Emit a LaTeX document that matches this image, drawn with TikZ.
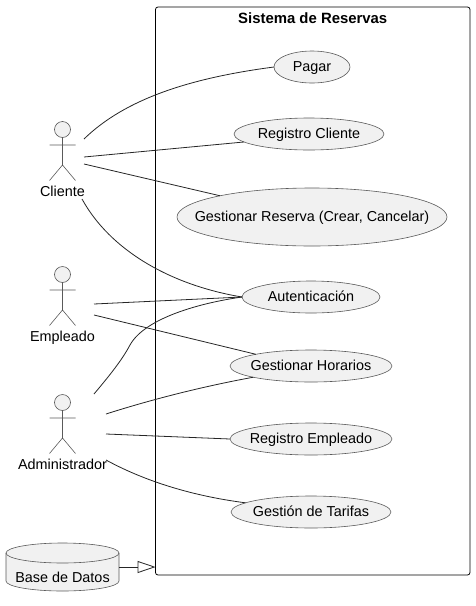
\documentclass[tikz,border=0pt]{standalone}
\usepackage{fontspec}
\setmainfont{Liberation Sans}
\usetikzlibrary{arrows.meta, positioning, shapes}
\definecolor{umlfill}{HTML}{F1F1F1}
\definecolor{umlline}{HTML}{5A5A5A}
\tikzset{
  stickman/.pic = {
    \draw[draw=umlline, line width=0.6pt, fill=umlfill] (0,-8.5) circle (8);
    \draw[draw=umlline, line width=0.6pt] (0,-16.5) -- (0,-44) (-13,-24) -- (13,-24) (-13,-59.5) -- (0,-44) -- (13,-59.5);
  },
  drum/.pic = {
    \draw[draw=umlline, line width=0.6pt, fill=umlfill] (-56.5,14) arc[start angle=180, end angle=0, x radius=56.5, y radius=10] -- (56.5,-14) arc[start angle=0, end angle=-180, x radius=56.5, y radius=10] -- cycle;
    \draw[draw=umlline, line width=0.6pt] (-56.5,14) arc[start angle=180, end angle=360, x radius=56.5, y radius=10];
  }
}

\begin{document}
\begin{tikzpicture}[
  x=1pt, y=1pt,
  font=\fontsize{14.4}{16}\selectfont,
  usecase/.style = {draw=umlline, fill=umlfill, ellipse, inner xsep=-30pt, inner ysep=0pt, outer sep=0pt, line width=0.6pt, minimum height=32pt, text height=11pt, text depth=3pt},
  boundary/.style = {draw, line width=0.8pt, rounded corners=2.5pt, minimum width=314.5pt, minimum height=568pt, inner sep=0pt, outer sep=0pt},
  title/.style = {font=\fontsize{14.9}{16}\selectfont\bfseries, inner sep=0pt},
  actor/.style = {inner sep=0pt, outer sep=0pt, minimum height=78pt, label={[anchor=south, inner sep=0pt, text depth=3pt, yshift=-1pt]south:#1}},
  database/.style = {inner sep=0pt, outer sep=0pt, minimum width=113pt, minimum height=48pt},
  line/.style = {line width=0.8pt, draw=black!85},
  extends/.style = {line, -{Triangle[open, length=18pt, width=12pt]}}
]
  \useasboundingbox (0,0) rectangle (475,-606);

  % System
  \node[boundary] (sistema) at (312.75,-291) {};
  \node[title, below=5pt of sistema.north] (titulo) {Sistema de Reservas};

  % Use cases
  \node[usecase, minimum width=76pt] (pagar) at (312,-67) {Pagar};
  \node[usecase, minimum width=150pt, below=35pt of pagar, xshift=-3pt] (registrocliente) {Registro Cliente};
  \node[usecase, minimum width=270pt, minimum height=58pt, below=38pt of registrocliente, xshift=3pt] (gestionarreserva) {Gestionar Reserva (Crear, Cancelar)};
  \node[usecase, minimum width=138pt, below=35pt of gestionarreserva, xshift=-1pt] (autenticacion) {Autenticación};
  \node[usecase, minimum width=162pt, below=37pt of autenticacion] (horarios) {Gestionar Horarios};
  \node[usecase, minimum width=162pt, below=41pt of horarios] (registroempleado) {Registro Empleado};
  \node[usecase, minimum width=160pt, below=41pt of registroempleado] (tarifas) {Gestión de Tarifas};

  % Actors
  \node[actor=Cliente, minimum width=43pt] (cliente) at (62.5,-160) {};
  \node[actor=Empleado, minimum width=63pt, below=67pt of cliente] (empleado) {};
  \node[actor=Administrador, minimum width=87pt, below=50pt of empleado] (administrador) {};
  \pic at (cliente.north) {stickman};
  \pic at (empleado.north) {stickman};
  \pic at (administrador.north) {stickman};

  % Database
  \node[database, below=71pt of administrador] (basedatos) {};
  \pic at (basedatos.center) {drum};
  \node[inner sep=0pt, yshift=-10pt] (basetexto) at (basedatos.center) {Base de Datos};

  % Cliente
  \draw[line] ([yshift=21pt]cliente.east) .. controls (125,-99) and (190,-78) .. (pagar.west);
  \draw[line] ([yshift=3pt]cliente.east) -- (registrocliente.187);
  \draw[line] ([yshift=-4pt]cliente.east) -- (gestionarreserva.167);
  \draw[line] ([xshift=-2pt]cliente.south east) .. controls (110,-250) and (170,-285) .. (autenticacion.west);

  % Empleado
  \draw[line] ([yshift=1pt]empleado.east) -- (autenticacion.west);
  \draw[line] ([yshift=-10pt]empleado.east) -- (horarios.168);

  % Administrador
  \draw[line] ([xshift=31.5pt]administrador.north) .. controls (110,-375) and (122,-360) .. (130,-345) .. controls (145,-318) and (200,-303) .. (autenticacion.west);
  \draw[line] ([yshift=19pt]administrador.east) .. controls (150,-400) and (200,-387) .. (horarios.191);
  \draw[line] ([yshift=-1pt]administrador.east) -- (registroempleado.west);
  \draw[line] ([yshift=-27pt]administrador.east) .. controls (150,-484) and (200,-497) .. (tarifas.172);

  % Database to system
  \draw[extends] (basedatos.east) -- (basedatos.east -| sistema.west);

\end{tikzpicture}
\end{document}
